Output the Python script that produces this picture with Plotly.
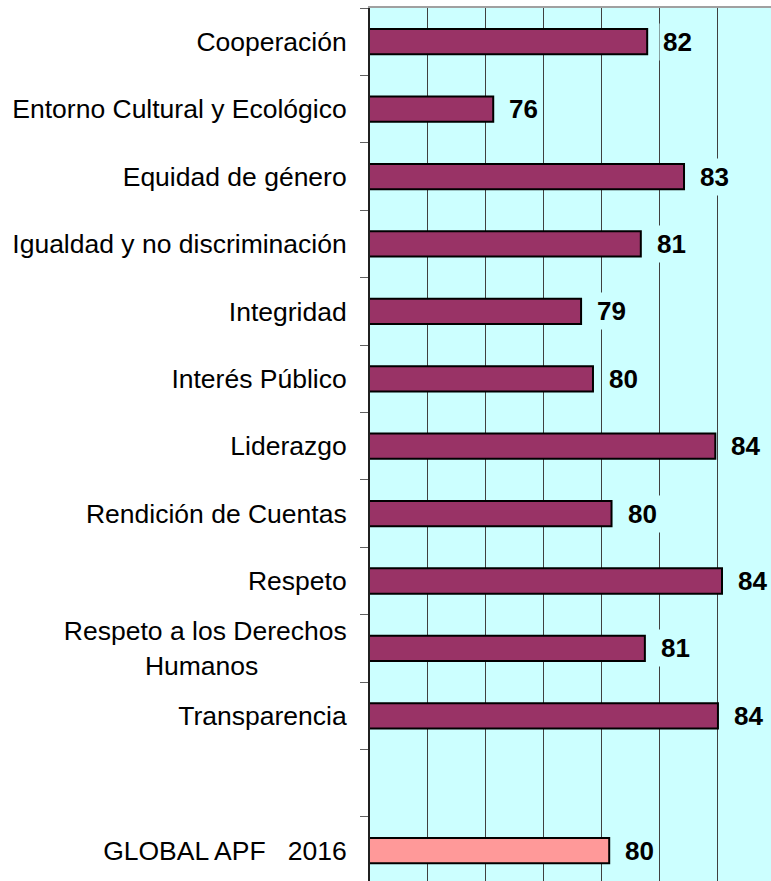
import plotly.graph_objects as go

NBSP = "\u00a0"

categories = [
    "Cooperación",
    "Entorno Cultural y Ecológico",
    "Equidad de género",
    "Igualdad y no discriminación",
    "Integridad",
    "Interés Público",
    "Liderazgo",
    "Rendición de Cuentas",
    "Respeto",
    "Respeto a los Derechos<br>Humanos" + NBSP * 12,
    "Transparencia",
    " ",
    "GLOBAL APF" + NBSP * 3 + "2016",
]
scores = [81.56, 76.25, 82.83, 81.34, 79.28, 79.69, 83.91, 80.33, 84.14, 81.48, 84.0, None, 80.25]
bar_colors = ["#993366"] * 12 + ["#FF9999"]

FONT = "Arial, 'Liberation Sans', sans-serif"
PLOT_BG = "#CCFFFF"

fig = go.Figure()

fig.add_trace(go.Bar(
    x=scores,
    y=categories,
    orientation="h",
    width=0.375,
    marker=dict(color=bar_colors, line=dict(color="black", width=2)),
    hoverinfo="x+y",
    showlegend=False,
))

# value labels with a box in the plot colour (they break the gridlines)
for cat, val in zip(categories, scores):
    if val is None:
        continue
    fig.add_annotation(
        x=val, y=cat, xref="x", yref="y",
        text=f"<b>{round(val)}</b>",
        showarrow=False,
        xanchor="left", yanchor="middle",
        xshift=12,
        bgcolor=PLOT_BG,
        borderpad=3,
        font=dict(family=FONT, size=26, color="black"),
    )

fig.update_layout(
    width=771,
    height=881,
    margin=dict(l=370, r=0, t=8, b=0),
    paper_bgcolor="white",
    plot_bgcolor=PLOT_BG,
    font=dict(family=FONT, size=26, color="black"),
    xaxis=dict(
        range=[72, 85.83],
        dtick=2,
        tick0=72,
        side="top",
        showticklabels=False,
        showgrid=True,
        gridcolor="#404040",
        gridwidth=1,
        zeroline=False,
        showline=True,
        linecolor="#A0A0A0",
        linewidth=2,
        ticks="",
    ),
    yaxis=dict(
        categoryorder="array",
        categoryarray=categories,
        range=[12.45, -0.5],
        tickson="boundaries",
        ticks="outside",
        ticklen=8,
        tickcolor="#606060",
        tickwidth=1,
        ticklabelstandoff=16,
        showline=True,
        linecolor="#202020",
        linewidth=2,
        showgrid=False,
        zeroline=False,
        tickfont=dict(family=FONT, size=26.5, color="black"),
    ),
)

fig.write_html(
    "out.html",
    config={"displayModeBar": False},
    post_script="document.body.style.margin='0';",
)
